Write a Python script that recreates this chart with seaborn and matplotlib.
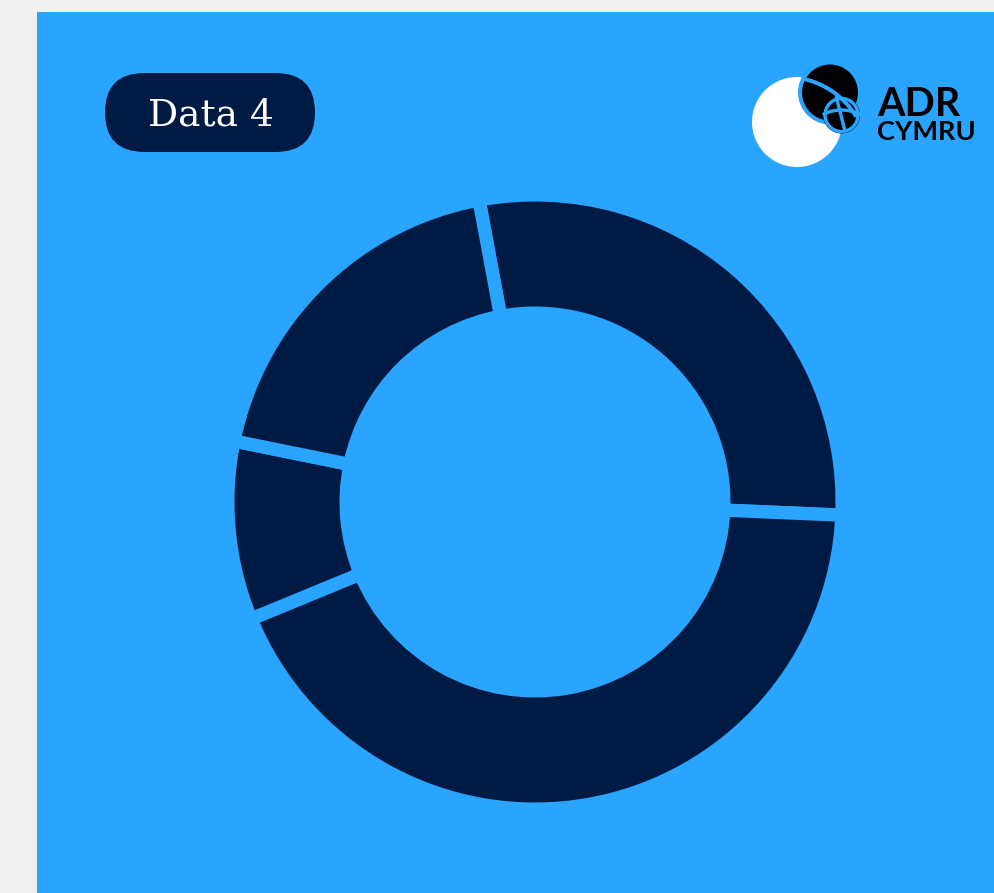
import matplotlib
matplotlib.use("Agg")
import matplotlib.pyplot as plt
from matplotlib.patches import Rectangle, FancyBboxPatch, Circle, Arc
import seaborn as sns

# ---- data ----
categories = ["Segment A", "Segment B", "Segment C", "Segment D"]
values = [28.6, 43.1, 9.4, 18.9]
title_label = "Data 4"
logo_top = "ADR"
logo_bottom = "CYMRU"

# ---- style ----
sns.set_theme(style="white")
BLUE = "#29A5FF"
NAVY = "#001B43"
GREY = "#F0F0F0"
W, H = 995, 893


def Y(y):
    return H - y


fig = plt.figure(figsize=(W / 100, H / 100), dpi=100)
fig.patch.set_facecolor(GREY)
ax = fig.add_axes([0, 0, 1, 1])

# blue panel
ax.add_patch(Rectangle((37, 0), W - 37, H - 12, fc=BLUE, ec="none", zorder=0))

# donut
gap_px = 13.3
R_out, R_in = 300.5, 195.5
colors = sns.color_palette([NAVY] * len(values))
wedges, _ = ax.pie(
    values,
    labels=None,
    startangle=100.5,
    counterclock=False,
    colors=colors,
    radius=R_out + gap_px / 2,
    center=(535, Y(502)),
    wedgeprops=dict(width=(R_out - R_in) + gap_px, edgecolor=BLUE,
                    linewidth=gap_px * 72 / 100, joinstyle="miter"),
    frame=True,
)
for w in wedges:
    w.set_zorder(2)

# title badge
ax.add_patch(FancyBboxPatch((105, Y(152)), 210, 79,
                            boxstyle="round,pad=0,rounding_size=39.5",
                            fc=NAVY, ec="none", zorder=3))
ax.text(211, Y(126), title_label, family="DejaVu Serif", fontsize=27,
        color="white", ha="center", va="baseline", zorder=4)

# logo
pt = 72 / 100
ax.add_patch(Circle((797, Y(122)), 45, fc="white", ec="none", zorder=5))
ax.add_patch(Circle((830, Y(92.5)), 30, fc="black", ec=BLUE, lw=4 * pt, zorder=6))
ax.add_patch(Circle((841.5, Y(115)), 18.5, fc="black", ec="none", zorder=7))
ax.add_patch(Arc((786, Y(159)), 164, 164, theta1=31, theta2=79,
                 color=BLUE, lw=4 * pt, zorder=8))
ax.add_patch(Circle((841.5, Y(115)), 16.5, fill=False, ec=BLUE, lw=3.4 * pt, zorder=9))
ax.add_patch(Arc((841.5, Y(150)), 80, 80, theta1=62, theta2=118,
                 color=BLUE, lw=3.4 * pt, zorder=9))
ax.plot([836, 845], [Y(96), Y(131)], color=BLUE, lw=3.4 * pt, zorder=9,
        solid_capstyle="butt")

ax.text(877, Y(115.5), logo_top, family="Lato", weight="bold", fontsize=28.5,
        color="black", ha="left", va="baseline", zorder=10)
ax.text(877, Y(140.5), logo_bottom, family="Lato", weight="bold", fontsize=19.5,
        color="black", ha="left", va="baseline", zorder=10)

ax.set_aspect("auto")
ax.set_xlim(0, W)
ax.set_ylim(0, H)
ax.axis("off")

fig.savefig("out.png", dpi=100, facecolor=GREY)
